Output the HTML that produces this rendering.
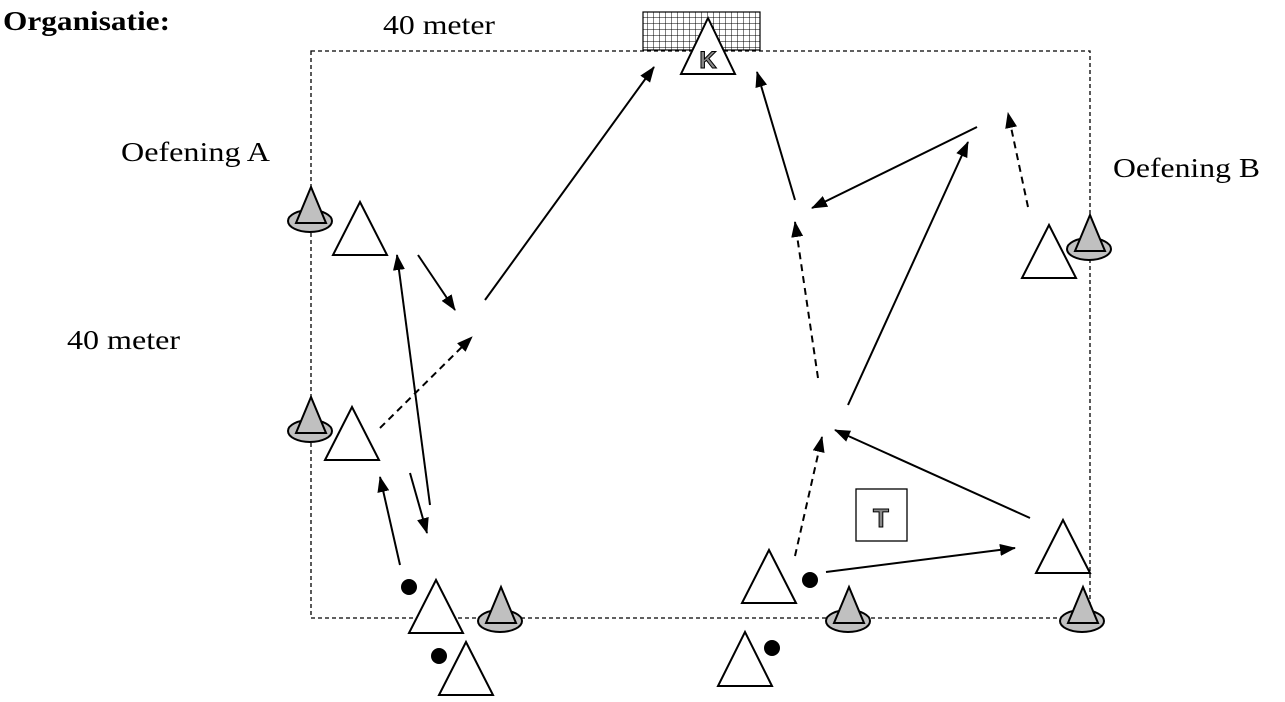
<!DOCTYPE html>
<html><head><meta charset="utf-8"><style>
html,body{margin:0;padding:0;background:#fff;width:1285px;height:702px;overflow:hidden}
</style></head><body>
<svg width="1285" height="702" viewBox="0 0 1285 702" xmlns="http://www.w3.org/2000/svg">
<defs>
<marker id="ah" markerWidth="16" markerHeight="12" refX="15" refY="6" orient="auto" markerUnits="userSpaceOnUse"><path d="M0,0 L16,6 L0,12 z" fill="#000"/></marker>
<pattern id="net" width="6" height="6" patternUnits="userSpaceOnUse"><path d="M6,0 V6 M0,6 H6" stroke="#000" stroke-width="1" fill="none"/></pattern>
</defs>
<g font-family="Liberation Serif, serif" font-size="27" fill="#000">
<text x="3" y="30" font-weight="bold" textLength="167" lengthAdjust="spacingAndGlyphs">Organisatie:</text>
<text x="383" y="34" textLength="112" lengthAdjust="spacingAndGlyphs">40 meter</text>
<text x="121" y="161" textLength="149" lengthAdjust="spacingAndGlyphs">Oefening A</text>
<text x="1113" y="177" textLength="147" lengthAdjust="spacingAndGlyphs">Oefening B</text>
<text x="67" y="349" textLength="113" lengthAdjust="spacingAndGlyphs">40 meter</text>
</g>
<rect x="643" y="12" width="117" height="38" fill="#fff" stroke="#000" stroke-width="1.2"/>
<rect x="643" y="12" width="117" height="38" fill="url(#net)"/>
<rect x="311" y="51" width="779" height="567" fill="none" stroke="#000" stroke-width="1.3" stroke-dasharray="4,3"/>
<polygon points="708,18 681,74 735,74" fill="#fff" stroke="#000" stroke-width="2"/>
<text x="708" y="68" text-anchor="middle" font-family="Liberation Sans, sans-serif" font-weight="bold" font-size="24" fill="#888" stroke="#000" stroke-width="1">K</text>
<g fill="#c0c0c0" stroke="#000" stroke-width="2">
<g transform="translate(310,221)"><ellipse cx="0" cy="0" rx="22" ry="11"/><polygon points="1,-34 -14,2 16,2"/></g>
<g transform="translate(310,431)"><ellipse cx="0" cy="0" rx="22" ry="11"/><polygon points="1,-34 -14,2 16,2"/></g>
<g transform="translate(500,621)"><ellipse cx="0" cy="0" rx="22" ry="11"/><polygon points="1,-34 -14,2 16,2"/></g>
<g transform="translate(848,621)"><ellipse cx="0" cy="0" rx="22" ry="11"/><polygon points="1,-34 -14,2 16,2"/></g>
<g transform="translate(1089,249)"><ellipse cx="0" cy="0" rx="22" ry="11"/><polygon points="1,-34 -14,2 16,2"/></g>
<g transform="translate(1082,621)"><ellipse cx="0" cy="0" rx="22" ry="11"/><polygon points="1,-34 -14,2 16,2"/></g>
</g>
<g fill="#fff" stroke="#000" stroke-width="2">
<polygon points="360,202 333,255 387,255"/>
<polygon points="352,407 325,460 379,460"/>
<polygon points="436,580 409,633 463,633"/>
<polygon points="466,642 439,695 493,695"/>
<polygon points="769,550 742,603 796,603"/>
<polygon points="745,632 718,686 772,686"/>
<polygon points="1049,225 1022,278 1076,278"/>
<polygon points="1063,520 1036,573 1090,573"/>
</g>
<g fill="#000"><circle cx="409" cy="587" r="8"/><circle cx="439" cy="656" r="8"/><circle cx="810" cy="580" r="8"/><circle cx="772" cy="648" r="8"/></g>
<rect x="856" y="489" width="51" height="52" fill="#fff" stroke="#000" stroke-width="1.3"/>
<text x="881" y="527" text-anchor="middle" font-family="Liberation Sans, sans-serif" font-weight="bold" font-size="26" fill="#888" stroke="#000" stroke-width="1">T</text>
<g stroke="#000" stroke-width="2" fill="none" marker-end="url(#ah)">
<line x1="400" y1="565" x2="380" y2="477"/>
<line x1="430" y1="505" x2="397" y2="255"/>
<line x1="410" y1="473" x2="427" y2="533"/>
<line x1="418" y1="255" x2="455" y2="310"/>
<line x1="485" y1="300" x2="654" y2="67"/>
<line x1="795" y1="200" x2="757" y2="72"/>
<line x1="977" y1="127" x2="812" y2="208"/>
<line x1="848" y1="405" x2="968" y2="142"/>
<line x1="1030" y1="518" x2="835" y2="430"/>
<line x1="826" y1="572" x2="1015" y2="548"/>
</g>
<g stroke="#000" stroke-width="2" fill="none" stroke-dasharray="7,5" marker-end="url(#ah)">
<line x1="380" y1="428" x2="472" y2="337"/>
<line x1="1028" y1="207" x2="1008" y2="113"/>
<line x1="818" y1="378" x2="795" y2="222"/>
<line x1="795" y1="556" x2="822" y2="437"/>
</g>
</svg>
</body></html>
